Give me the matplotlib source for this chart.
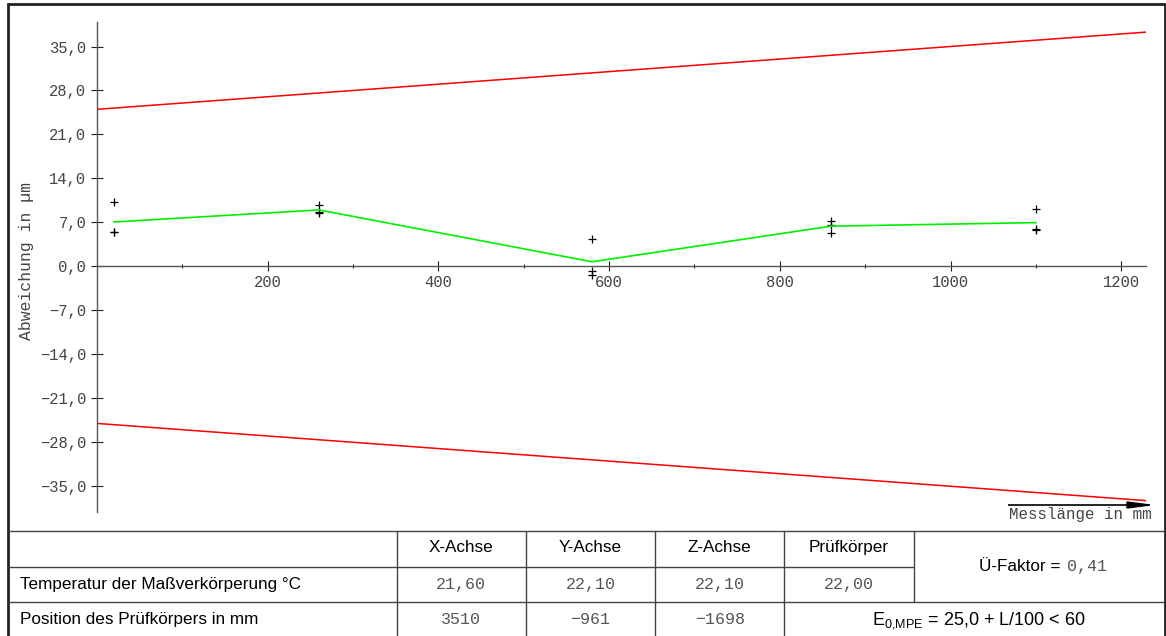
import matplotlib
matplotlib.use("Agg")
import matplotlib.pyplot as plt
from matplotlib.lines import Line2D
from matplotlib.patches import Polygon
import numpy as np

# Measuring positions along the length (mm) and three repeat measurements (µm)
positions = [20, 260, 580, 860, 1100]
repeat_1 = [10.3, 9.7, 4.35, 7.3, 9.1]
repeat_2 = [5.4, 8.7, -0.7, 6.6, 5.95]
repeat_3 = [5.5, 8.55, -1.45, 5.3, 5.85]

# Permissible error E0,MPE = 25,0 + L/100
mpe_offset = 25.0
mpe_per_mm = 1 / 100
length_range = [0, 1229]

y_ticks = [-35, -28, -21, -14, -7, 0, 7, 14, 21, 28, 35]
x_ticks = [200, 400, 600, 800, 1000, 1200]
x_minor = [100, 300, 500, 700, 900, 1100]

# Table contents
col_headers = ["X-Achse", "Y-Achse", "Z-Achse", "Prüfkörper"]
row_labels = ["Temperatur der Maßverkörperung °C", "Position des Prüfkörpers in mm"]
temperatures = ["21,60", "22,10", "22,10", "22,00"]
probe_position = ["3510", "\u2212961", "\u22121698"]
u_factor = "0,41"

W, H = 1166, 636
MONO = "Liberation Mono"
SANS = "Liberation Sans"
plt.rcParams["mathtext.default"] = "regular"

fig = plt.figure(figsize=(W / 100, H / 100), dpi=100)
fig.patch.set_facecolor("white")


def fx(x):
    return x / W


def fy(y):
    return 1 - y / H


def hline(x0, x1, y, lw=1.0, color="#444444"):
    fig.add_artist(Line2D([fx(x0), fx(x1)], [fy(y), fy(y)], transform=fig.transFigure,
                          color=color, lw=lw, solid_capstyle="butt"))


def vline(x, y0, y1, lw=1.0, color="#444444"):
    fig.add_artist(Line2D([fx(x), fx(x)], [fy(y0), fy(y1)], transform=fig.transFigure,
                          color=color, lw=lw, solid_capstyle="butt"))


# ---- chart ----
ax = fig.add_axes([fx(97), fy(512), (1146 - 97) / W, (512 - 22) / H])
ax.set_xlim(*length_range)
ax.set_ylim(-39.1, 38.9)
ax.set_facecolor("white")
for side in ("top", "right"):
    ax.spines[side].set_visible(False)
ax.spines["left"].set_color("#555555")
ax.spines["bottom"].set_color("#555555")
ax.spines["bottom"].set_position(("data", 0))
ax.spines["left"].set_linewidth(1.0)
ax.spines["bottom"].set_linewidth(1.0)

ax.set_yticks(y_ticks)
ax.set_yticklabels([f"{v:.1f}".replace(".", ",").replace("-", "\u2212") for v in y_ticks],
                   fontfamily=MONO, fontsize=11.2, color="#444444")
ax.set_xticks(x_ticks)
ax.set_xticklabels([str(v) for v in x_ticks], fontfamily=MONO, fontsize=11.2, color="#444444")
ax.set_xticks(x_minor, minor=True)
ax.tick_params(axis="y", direction="inout", length=8.6, width=0.8, color="#222222", pad=3.5)
ax.tick_params(axis="x", which="major", direction="inout", length=7.9, width=0.8,
               color="#222222", pad=2)
ax.tick_params(axis="x", which="minor", direction="inout", length=3.2, width=0.8,
               color="#222222")

# tolerance limits
L = np.array(length_range, dtype=float)
upper = mpe_offset + mpe_per_mm * L
ax.plot(L, upper, color="#ff0000", lw=1.1, solid_capstyle="butt", clip_on=False)
ax.plot(L, -upper, color="#ff0000", lw=1.1, solid_capstyle="butt", clip_on=False)

# repeat measurements and their mean
reps = np.array([repeat_1, repeat_2, repeat_3])
for r in reps:
    ax.plot(positions, r, linestyle="none", marker="+", markersize=5.5,
            markeredgewidth=0.9, color="black")
ax.plot(positions, reps.mean(axis=0), color="#00ee00", lw=1.2)

fig.text(fx(27), fy(261), "Abweichung in \u00b5m", rotation=90, ha="center", va="center",
         family=MONO, fontsize=11.8, color="#444444")

# axis arrow with caption
hline(1008, 1130, 505, lw=1.2, color="black")
fig.add_artist(Polygon([[fx(1127), fy(502)], [fx(1150), fy(505)], [fx(1127), fy(508)]],
                       closed=True, transform=fig.transFigure, color="black"))
fig.text(fx(1009), fy(515), "Messlänge in mm", ha="left", va="center",
         family=MONO, fontsize=11.4, color="#444444")

# ---- outer frame ----
hline(7, 1165, 3.5, lw=2.0, color="#222222")
vline(7.5, 2.5, 640, lw=2.0, color="#222222")
vline(1164.5, 2.5, 640, lw=2.0, color="#222222")

# ---- table ----
y_top, y_r1, y_r2, y_bot = 531, 566.7, 601.7, 640
cols = [396.7, 525.7, 655.3, 784.3, 913.7]
hline(8, 1164, y_top)
hline(8, 913.7, y_r1)
hline(8, 1164, y_r2)
for c in cols[:4]:
    vline(c, y_top, y_bot)
vline(cols[4], y_top, y_r2)

row_mid = [(y_top + y_r1) / 2 - 1.5, (y_r1 + y_r2) / 2, (y_r2 + 636) / 2 + 0.5]
for i, head in enumerate(col_headers):
    cx = (cols[i] + cols[i + 1]) / 2
    fig.text(fx(cx), fy(row_mid[0]), head, ha="center", va="center",
             family=SANS, fontsize=12.3, color="black")
    fig.text(fx(cx), fy(row_mid[1]), temperatures[i], ha="center", va="center",
             family=MONO, fontsize=12, color="#555555")
for i, val in enumerate(probe_position):
    cx = (cols[i] + cols[i + 1]) / 2
    fig.text(fx(cx), fy(row_mid[2]), val, ha="center", va="center",
             family=MONO, fontsize=12, color="#555555")

fig.text(fx(20), fy(row_mid[1]), row_labels[0], ha="left", va="center",
         family=SANS, fontsize=12.3, color="black")
fig.text(fx(20), fy(row_mid[2]), row_labels[1], ha="left", va="center",
         family=SANS, fontsize=12.3, color="black")

# Ü-Faktor cell spanning two rows
uf_cx = (cols[4] + 1164) / 2
fig.text(fx(uf_cx + 26), fy((y_top + y_r2) / 2), "Ü-Faktor = ", ha="right",
         va="center", family=SANS, fontsize=12.3, color="black")
fig.text(fx(uf_cx + 28), fy((y_top + y_r2) / 2 + 0.5), u_factor, ha="left", va="center",
         family=MONO, fontsize=12, color="#555555")

fig.text(fx((cols[3] + 1164) / 2 + 5), fy(row_mid[2] + 1),
         r"E$_{0{,}MPE}$ = 25,0 + L/100 < 60", ha="center", va="center",
         family=SANS, fontsize=13, color="black")

fig.savefig("out.png", dpi=100, facecolor="white")
